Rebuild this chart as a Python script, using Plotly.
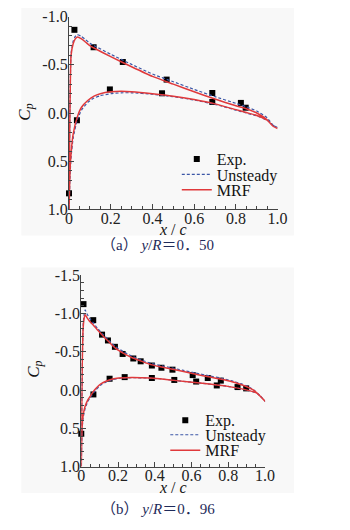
import plotly.graph_objects as go

# ---------------- Panel (a) y/R = 0.50 ----------------
x_up_a = [0.0, 0.002, 0.005, 0.01, 0.02, 0.03, 0.04, 0.06, 0.08, 0.1, 0.12, 0.2, 0.3, 0.4, 0.5,
          0.6, 0.7, 0.8, 0.85, 0.9, 0.95, 0.98, 1.0]
cp_up_mrf_a = [1.0, 0.5, -0.1, -0.6, -0.72, -0.77, -0.79, -0.77, -0.735, -0.70, -0.675, -0.585,
               -0.48, -0.38, -0.30, -0.22, -0.145, -0.075, -0.045, 0.0, 0.07, 0.14, 0.16]
cp_up_uns_a = [1.0, 0.5, -0.1, -0.62, -0.745, -0.795, -0.815, -0.795, -0.76, -0.725, -0.70, -0.61,
               -0.505, -0.405, -0.325, -0.245, -0.17, -0.10, -0.065, -0.02, 0.05, 0.13, 0.15]

x_lo_a = [0.0, 0.002, 0.005, 0.01, 0.02, 0.04, 0.06, 0.09, 0.12, 0.15, 0.2, 0.25, 0.3, 0.4, 0.5,
          0.6, 0.7, 0.8, 0.85, 0.9, 0.95, 0.98, 1.0]
cp_lo_mrf_a = [1.0, 0.85, 0.6, 0.42, 0.22, 0.04, -0.06, -0.13, -0.175, -0.2, -0.22, -0.225, -0.22,
               -0.2, -0.175, -0.14, -0.095, -0.035, -0.005, 0.025, 0.075, 0.14, 0.16]
cp_lo_uns_a = [1.0, 0.87, 0.65, 0.46, 0.26, 0.07, -0.03, -0.11, -0.155, -0.18, -0.2, -0.21, -0.21,
               -0.195, -0.17, -0.135, -0.09, -0.03, 0.0, 0.03, 0.075, 0.13, 0.15]

x_exp_a = [0.0, 0.026, 0.118, 0.258, 0.468, 0.687, 0.824, 0.847, 0.038, 0.196, 0.446, 0.687]
cp_exp_a = [0.834, -0.864, -0.683, -0.53, -0.347, -0.208, -0.105, -0.055, 0.075, -0.245, -0.205, -0.115]

# ---------------- Panel (b) y/R = 0.96 ----------------
x_up_b = [0.0, 0.002, 0.005, 0.01, 0.015, 0.021, 0.03, 0.045, 0.065, 0.09, 0.117, 0.15, 0.187,
          0.23, 0.274, 0.33, 0.379, 0.43, 0.483, 0.55, 0.623, 0.7, 0.763, 0.82, 0.867, 0.9,
          0.937, 0.97, 1.0]
cp_up_mrf_b = [1.0, 0.4, -0.3, -0.8, -0.93, -0.985, -0.95, -0.9, -0.85, -0.78, -0.71, -0.63,
               -0.544, -0.48, -0.426, -0.375, -0.333, -0.305, -0.279, -0.245, -0.208, -0.17,
               -0.141, -0.11, -0.074, -0.045, 0.0, 0.07, 0.145]
cp_up_uns_b = [1.0, 0.4, -0.3, -0.85, -0.98, -1.047, -1.0, -0.94, -0.88, -0.8, -0.73, -0.65,
               -0.565, -0.5, -0.445, -0.39, -0.35, -0.32, -0.295, -0.26, -0.222, -0.185,
               -0.155, -0.12, -0.085, -0.055, -0.005, 0.065, 0.145]

x_lo_b = [0.0, 0.002, 0.005, 0.01, 0.021, 0.035, 0.047, 0.065, 0.082, 0.105, 0.134, 0.17, 0.204,
          0.274, 0.379, 0.45, 0.518, 0.658, 0.798, 0.902, 0.955, 1.0]
cp_lo_mrf_b = [1.0, 0.7, 0.46, 0.33, 0.21, 0.13, 0.086, 0.02, -0.028, -0.08, -0.116, -0.145,
               -0.158, -0.166, -0.158, -0.143, -0.124, -0.09, -0.049, 0.0, 0.04, 0.145]
cp_lo_uns_b = [1.0, 0.72, 0.5, 0.36, 0.24, 0.15, 0.1, 0.04, -0.01, -0.065, -0.105, -0.138,
               -0.152, -0.162, -0.156, -0.142, -0.124, -0.09, -0.049, 0.0, 0.04, 0.145]

x_exp_b = [0.012, 0.065, 0.113, 0.145, 0.183, 0.225, 0.283, 0.323, 0.384, 0.436, 0.496, 0.606,
           0.688, 0.759, 0.85, 0.897, 0.0, 0.066, 0.154, 0.236, 0.384, 0.506, 0.625, 0.737]
cp_exp_b = [-1.122, -0.913, -0.724, -0.648, -0.565, -0.472, -0.413, -0.376, -0.321, -0.292,
            -0.267, -0.196, -0.158, -0.124, -0.04, -0.023, 0.569, 0.056, -0.149, -0.17, -0.158,
            -0.133, -0.112, -0.061]

series_names = ["Exp.", "Unsteady", "MRF"]
captions = ["（a） <i>y</i>/<i>R</i>＝0．50", "（b） <i>y</i>/<i>R</i>＝0．96"]

SERIF = "Liberation Serif, Times New Roman, serif"
CJK = "Liberation Serif, Noto Sans CJK SC, serif"
BLUE = "#3b56a6"
RED = "#e0393b"


def loop(xu, cu, xl, cl):
    return xu[::-1] + xl[1:], cu[::-1] + cl[1:]


fig = go.Figure()

panels = [
    dict(xa="x", ya="y", lgs=["legend", "legend2", "legend3"], xu=x_up_a, mu=cp_up_mrf_a,
         uu=cp_up_uns_a, xl=x_lo_a, ml=cp_lo_mrf_a, ul=cp_lo_uns_a, xe=x_exp_a, ce=cp_exp_a),
    dict(xa="x2", ya="y2", lgs=["legend4", "legend5", "legend6"], xu=x_up_b, mu=cp_up_mrf_b,
         uu=cp_up_uns_b, xl=x_lo_b, ml=cp_lo_mrf_b, ul=cp_lo_uns_b, xe=x_exp_b, ce=cp_exp_b),
]

for p in panels:
    xm, cm = loop(p["xu"], p["mu"], p["xl"], p["ml"])
    xu_, cu_ = loop(p["xu"], p["uu"], p["xl"], p["ul"])
    fig.add_trace(go.Scatter(x=p["xe"], y=p["ce"], mode="markers", name=series_names[0],
                             marker=dict(symbol="square", size=6, color="black"),
                             xaxis=p["xa"], yaxis=p["ya"], legend=p["lgs"][0], cliponaxis=False))
    fig.add_trace(go.Scatter(x=xu_, y=cu_, mode="lines", name=series_names[1],
                             line=dict(color=BLUE, width=1.2, dash="3px,2px", shape="spline",
                                       smoothing=0.5),
                             xaxis=p["xa"], yaxis=p["ya"], legend=p["lgs"][1]))
    fig.add_trace(go.Scatter(x=xm, y=cm, mode="lines", name=series_names[2],
                             line=dict(color=RED, width=1.5, shape="spline", smoothing=0.5),
                             xaxis=p["xa"], yaxis=p["ya"], legend=p["lgs"][2]))

W, H = 350, 530


def px(x):
    return x / W


def py(y):
    return 1 - y / H


axis_common = dict(showline=True, linecolor="#444", linewidth=1.2, ticks="inside", ticklen=5,
                   tickcolor="#444", showgrid=False, zeroline=False,
                   tickfont=dict(family=SERIF, size=16, color="#222"),
                   minor=dict(ticks="inside", ticklen=3, tickcolor="#444"))
xstand = dict(ticklabelstandoff=-6)
ystand = dict(ticklabelstandoff=-3)

LEGFONT = dict(family=SERIF, size=16, color="#111")


def leg(xpix, ypix):
    return dict(x=px(xpix), y=py(ypix), xanchor="left", yanchor="middle",
                bgcolor="rgba(0,0,0,0)", font=LEGFONT, borderwidth=0)


def ann(text, xpix, ypix, size, family=SERIF, color="#111", angle=0):
    return dict(text=text, xref="paper", yref="paper", x=px(xpix), y=py(ypix),
                xanchor="center", yanchor="middle", textangle=angle, showarrow=False,
                font=dict(family=family, size=size, color=color))


fig.update_layout(
    width=W, height=H, margin=dict(l=0, r=0, t=0, b=0),
    paper_bgcolor="white", plot_bgcolor="rgba(0,0,0,0)", showlegend=True,
    xaxis=dict(domain=[px(67.7), px(285)], range=[0, 1], anchor="y",
               tickvals=[0, 0.2, 0.4, 0.6, 0.8, 1.0], ticktext=["0", "0.2", "0.4", "0.6", "0.8", "1.0"],
               minor_dtick=0.05, **axis_common, **xstand),
    yaxis=dict(domain=[py(208), py(9)], range=[1.0, -1.0], anchor="x",
               tickvals=[-1.0, -0.5, 0.0, 0.5, 1.0], ticktext=["-1.0", "-0.5", "0.0", "0.5", "1.0"],
               minor_dtick=0.1, **axis_common, **ystand),
    xaxis2=dict(domain=[px(80.5), px(272)], range=[0, 1], anchor="y2",
                tickvals=[0, 0.2, 0.4, 0.6, 0.8, 1.0], ticktext=["0", "0.2", "0.4", "0.6", "0.8", "1.0"],
                minor_dtick=0.05, **axis_common, **xstand),
    yaxis2=dict(domain=[py(474), py(276)], range=[1.0, -1.5], anchor="x2",
                tickvals=[-1.5, -1.0, -0.5, 0.0, 0.5, 1.0],
                ticktext=["-1.5", "-1.0", "-0.5", "0.0", "0.5", "1.0"],
                minor_dtick=0.1, **axis_common, **ystand),
    legend=leg(180, 156), legend2=leg(180, 172), legend3=leg(180, 188),
    legend4=leg(168, 426), legend5=leg(168, 441), legend6=leg(168, 457),
    shapes=[
        dict(type="rect", xref="paper", yref="paper", x0=px(18), x1=px(302), y0=py(235), y1=py(0),
             fillcolor="#f8f8f8", line=dict(width=0), layer="below"),
        dict(type="rect", xref="paper", yref="paper", x0=px(18), x1=px(302), y0=py(501), y1=py(268),
             fillcolor="#f8f8f8", line=dict(width=0), layer="below"),
    ],
    annotations=[
        ann("<i>C<sub>p</sub></i>", 22, 108, 17, angle=-90),
        ann("<i>x</i> / <i>c</i>", 176, 229, 16),
        ann(captions[0], 160, 245, 15, family=CJK, color="#1f2b5a"),
        ann("<i>C<sub>p</sub></i>", 32, 373, 17, angle=-90),
        ann("<i>x</i> / <i>c</i>", 176, 495, 16),
        ann(captions[1], 160, 518, 15, family=CJK, color="#1f2b5a"),
    ],
)

fig.write_html("out.html", config={"displayModeBar": False},
               post_script="document.body.style.margin='0px';")
